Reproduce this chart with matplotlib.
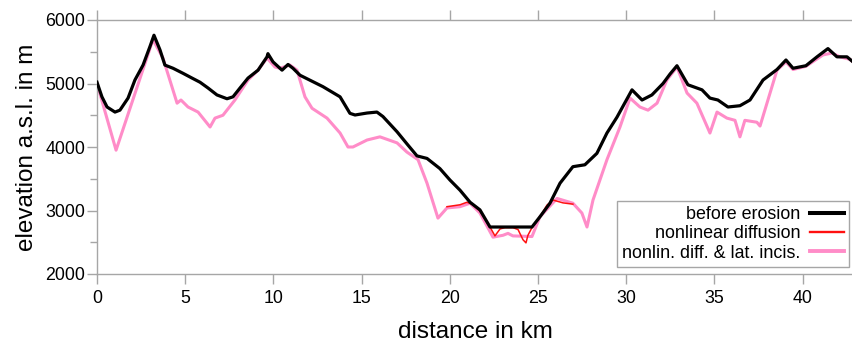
import matplotlib
matplotlib.use("Agg")
import matplotlib.pyplot as plt
from matplotlib.ticker import MultipleLocator

plt.rcParams['font.family'] = ['Liberation Sans', 'DejaVu Sans']

# before erosion (distance km, elevation m)
km_before = [0.00, 0.28, 0.57, 1.02, 1.30, 1.76, 2.15, 2.61, 3.00, 3.23, 3.57, 3.85,
             4.31, 4.88, 5.39, 5.84, 6.29, 6.80, 7.37, 7.71, 8.11, 8.56, 9.13, 9.64,
             9.69, 9.98, 10.49, 10.83, 11.11, 11.51, 12.81, 13.78, 14.34, 14.63, 15.31,
             15.87, 16.21, 17.01, 17.57, 18.14, 18.71, 19.44, 20.01, 20.58, 21.15, 21.71,
             22.28, 24.66, 25.11, 25.68, 26.25, 26.98, 27.66, 28.34, 28.91, 29.48, 30.33,
             30.90, 31.46, 32.09, 32.49, 32.88, 33.50, 34.30, 34.75, 35.20, 35.77, 36.45,
             37.02, 37.76, 38.55, 39.06, 39.46, 40.19, 40.82, 41.44, 41.95, 42.52, 42.86]
elev_before = [5020, 4790, 4630, 4550, 4580, 4770, 5055, 5290, 5580, 5760, 5530, 5290,
               5240, 5160, 5085, 5020, 4930, 4820, 4760, 4790, 4930, 5085, 5210, 5420,
               5470, 5340, 5210, 5300, 5240, 5130, 4950, 4790, 4530, 4504, 4535,
               4550, 4480, 4240, 4050, 3860, 3820, 3660, 3480, 3320, 3130, 3010,
               2740, 2740, 2900, 3115, 3430, 3690, 3720, 3900, 4220, 4470, 4900,
               4740, 4820, 5000, 5150, 5280, 4980, 4900, 4770, 4740, 4630, 4650,
               4740, 5055, 5220, 5370, 5240, 5280, 5420, 5550, 5420, 5420, 5340]

# nonlinear diffusion (only where it differs from the pink line)
km_diff = [19.84, 20.58, 20.97, 21.26, 21.71, 22.28, 22.56, 22.85, 23.13, 23.58, 23.87,
           24.15, 24.32, 24.43, 24.66, 25.11, 25.51, 25.85, 26.42, 26.98]
elev_diff = [3060, 3090, 3130, 3100, 2990, 2740, 2600, 2710, 2730, 2730, 2700,
             2540, 2490, 2610, 2730, 2900, 3085, 3165, 3120, 3100]

# nonlinear diffusion & lateral incision
km_lat = [0.00, 1.08, 3.17, 3.74, 4.54, 4.76, 5.16, 5.73, 6.41, 6.69, 7.14, 7.82, 8.56,
          9.13, 9.64, 10.09, 10.37, 10.94, 11.34, 11.79, 12.19, 13.04, 13.78, 14.23,
          14.51, 15.31, 16.04, 17.01, 17.57, 18.20, 18.71, 19.33, 19.84, 20.58, 21.15,
          21.71, 22.45, 23.02, 23.30, 23.58, 24.66, 25.11, 26.08, 26.98, 27.49, 27.78,
          28.12, 28.91, 29.65, 30.22, 30.78, 31.24, 31.75, 32.31, 32.88, 33.45, 34.01,
          34.75, 35.15, 35.71, 36.17, 36.45, 36.73, 37.41, 37.59, 38.55, 39.06, 39.46,
          40.19, 41.16, 41.67, 42.12, 42.69, 42.86]
elev_lat = [5000, 3950, 5690, 5400, 4690, 4740, 4630, 4550, 4315, 4455, 4500, 4740, 5055,
            5210, 5400, 5260, 5240, 5290, 5210, 4790, 4610, 4455, 4220, 4000,
            4000, 4110, 4160, 4065, 3920, 3800, 3430, 2880, 3040, 3060, 3115,
            2960, 2580, 2610, 2640, 2600, 2590, 2900, 3190, 3115, 2960, 2740,
            3165, 3800, 4315, 4770, 4630, 4580, 4690, 5055, 5260, 4850, 4690,
            4220, 4550, 4455, 4420, 4160, 4420, 4390, 4330, 5210, 5340, 5220,
            5270, 5450, 5480, 5420, 5380, 5340]

labels = ['before erosion', 'nonlinear diffusion', 'nonlin. diff. & lat. incis.']
grey = '#a6a6a6'

fig = plt.figure(figsize=(8.53, 3.42), dpi=100)
ax = fig.add_axes([97 / 853, 1 - 274 / 342, 756 / 853, 254 / 342])

ax.plot(km_before, elev_before, color='black', lw=2.3, label=labels[0], zorder=3)
ax.plot(km_diff, elev_diff, color='#ff1010', lw=1.1, label=labels[1], zorder=2)
ax.plot(km_lat, elev_lat, color='#ff8cc8', lw=2.2, label=labels[2], zorder=1)

ax.set_xlim(0, 42.86)
ax.set_ylim(2000, 6000)
ax.xaxis.set_major_locator(MultipleLocator(5))
ax.yaxis.set_major_locator(MultipleLocator(1000))
ax.yaxis.set_minor_locator(MultipleLocator(500))

for side in ['left', 'bottom', 'top']:
    ax.spines[side].set_color(grey)
    ax.spines[side].set_linewidth(1.0)
ax.spines['right'].set_visible(False)

ax.tick_params(axis='x', which='major', top=True, direction='out', length=7.5,
               width=1.0, color=grey, labelsize=12.8, pad=4)
ax.tick_params(axis='y', which='major', direction='out', length=7.5, width=1.0,
               color=grey, labelsize=12.8, pad=1)
ax.tick_params(axis='y', which='minor', direction='out', length=5, width=1.0, color=grey)

ax.set_xlabel('distance in km', fontsize=17.5)
ax.set_ylabel('elevation a.s.l. in m', fontsize=17.5)
ax.xaxis.set_label_coords(0.5, -0.185)
ax.yaxis.set_label_coords(-0.078, 0.5)

leg = ax.legend(loc='lower right', bbox_to_anchor=(752 / 756, (274 - 267) / 254),
                markerfirst=False, fontsize=12.9, fancybox=False, framealpha=1,
                edgecolor=grey, handlelength=1.9, handletextpad=0.5, borderpad=0.3,
                labelspacing=0.12, borderaxespad=0)
leg.get_frame().set_linewidth(1.0)
for line in leg.get_lines():
    line.set_linewidth(line.get_linewidth() + 0.6)

fig.savefig('out.png', dpi=100)
